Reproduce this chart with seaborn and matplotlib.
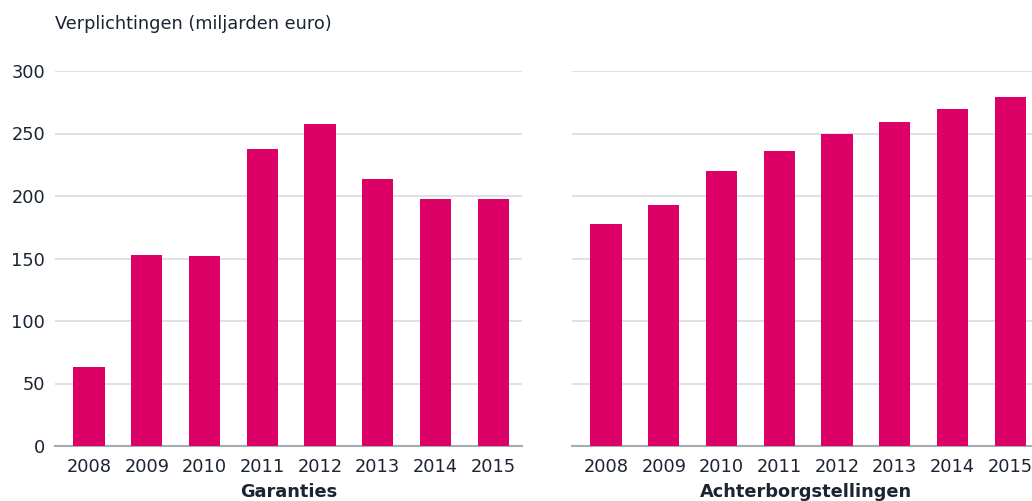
import matplotlib
matplotlib.use("Agg")
import matplotlib.pyplot as plt
import seaborn as sns
import pandas as pd

jaren = ["2008", "2009", "2010", "2011", "2012", "2013", "2014", "2015"]
garanties = [63, 153, 152, 238, 258, 214, 198, 198]
achterborgstellingen = [178, 193, 220, 236, 250, 259, 270, 279]
y_ticks = [0, 50, 100, 150, 200, 250, 300]

KLEUR = "#dc0067"
TEKST = "#1b2433"

sns.set_theme(style="white")
plt.rcParams["font.family"] = ["DejaVu Sans"]

fig = plt.figure(figsize=(10.32, 5.01), dpi=100)
W, H = 1032, 501

# -------------------
# Assen handmatig plaatsen (rechter paneel loopt buiten beeld)
# -------------------
ax_l = fig.add_axes([55 / W, (H - 446) / H, 467 / W, 375 / H])
ax_r = fig.add_axes([572 / W, (H - 446) / H, 467 / W, 375 / H])

panelen = [
    (ax_l, garanties, "Garanties"),
    (ax_r, achterborgstellingen, "Achterborgstellingen"),
]

for ax, waarden, titel in panelen:
    df = pd.DataFrame({"jaar": jaren, "waarde": waarden})
    sns.barplot(data=df, x="jaar", y="waarde", color=KLEUR, width=0.54,
                saturation=1, linewidth=0, ax=ax, zorder=3)
    ax.set_xlim(-0.59, 7.5)
    ax.set_ylim(0, 300)
    ax.set_yticks(y_ticks)
    ax.grid(axis="y", color="#d8dde2", linewidth=1.2, zorder=0)
    ax.set_axisbelow(True)
    for s in ["top", "right", "left"]:
        ax.spines[s].set_visible(False)
    ax.spines["bottom"].set_color("#a3adb6")
    ax.spines["bottom"].set_linewidth(1.5)
    ax.tick_params(axis="both", length=0, labelsize=12.8, colors=TEKST)
    ax.tick_params(axis="x", pad=9)
    ax.set_xlabel(titel, fontsize=12.8, fontweight="bold", color=TEKST, labelpad=5)
    ax.set_ylabel("")

ax_r.set_yticklabels([])
ax_l.tick_params(axis="y", pad=7)

fig.text(55 / W, (H - 24) / H, "Verplichtingen (miljarden euro)",
         fontsize=12.8, color=TEKST, va="center", ha="left")

fig.savefig("out.png", dpi=100)
